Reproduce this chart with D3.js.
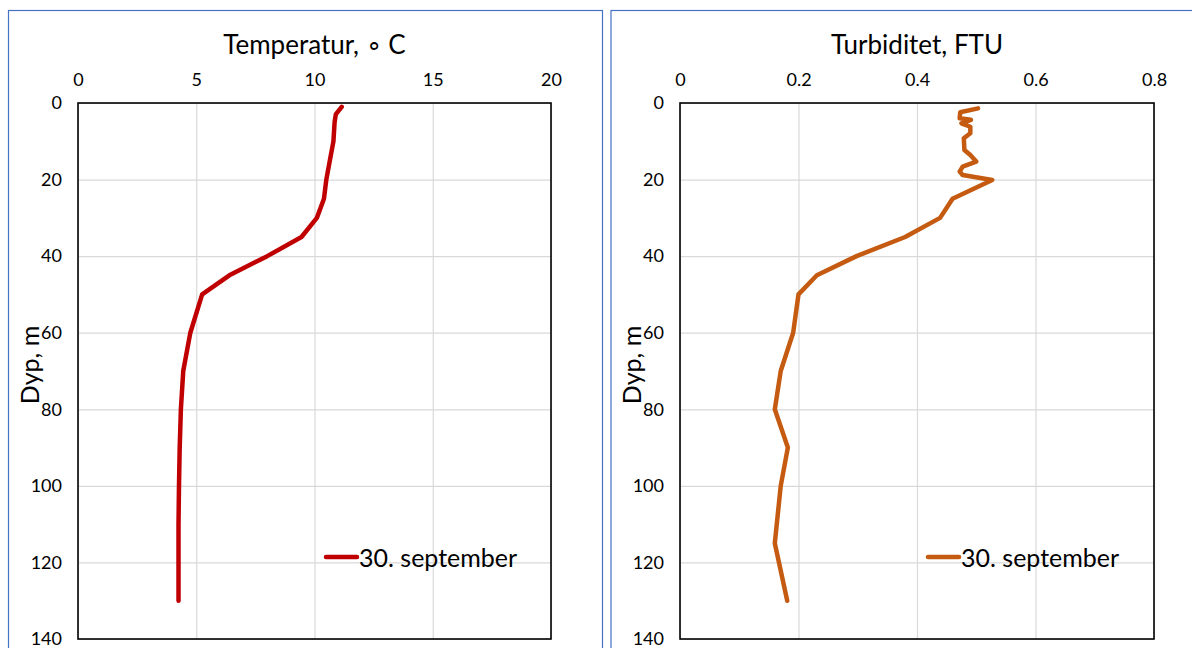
<!DOCTYPE html>
<html>
<head>
<meta charset="utf-8">
<script src="https://cdn.jsdelivr.net/npm/d3@7"></script>
<style>
  body { margin: 0; background: #fff; }
  svg { font-family: Lato, "Open Sans", sans-serif; }
</style>
</head>
<body>
<div id="canvas"></div>
<script>
// temperature profile, 30. september
const tempDepth = [1, 3, 5, 10, 15, 20, 25, 30, 35, 40, 45, 50, 60, 70, 80, 90, 100, 110, 115, 120, 125, 130];
const tempValue = [11.15, 10.9, 10.85, 10.8, 10.65, 10.5, 10.4, 10.1, 9.45, 8.0, 6.4, 5.25, 4.75, 4.45, 4.35, 4.3, 4.27, 4.25, 4.25, 4.25, 4.25, 4.25];

// turbidity profile, 30. september
const turbDepth = [1.4, 2.4, 4, 4.4, 5.3, 6.2, 7.9, 9.2, 12.3, 13.6, 15.3, 16.6, 17.9, 18.8, 20.1, 25, 30, 35, 40, 45, 50, 60, 70, 80, 90, 100, 115, 130];
const turbValue = [0.503, 0.473, 0.472, 0.491, 0.475, 0.49, 0.49, 0.479, 0.48, 0.49, 0.50, 0.477, 0.472, 0.477, 0.527, 0.46, 0.439, 0.38, 0.298, 0.231, 0.2, 0.191, 0.17, 0.16, 0.182, 0.17, 0.16, 0.181];

const tempTicks = [0, 5, 10, 15, 20];
const turbTicks = [0, 0.2, 0.4, 0.6, 0.8];
const depthTicks = [0, 20, 40, 60, 80, 100, 120, 140];
const seriesName = "30. september";

const width = 1192;
const height = 648;

const svg = d3.select("#canvas").append("svg")
    .attr("width", width)
    .attr("height", height);

function drawPanel(p) {
    const g = svg.append("g");

    // panel border (Excel chart area)
    g.append("rect")
        .attr("x", p.boxX).attr("y", 10.5)
        .attr("width", p.boxW).attr("height", 700)
        .attr("fill", "none")
        .attr("stroke", "#4472c4")
        .attr("stroke-width", 1.2);

    const x = d3.scaleLinear().domain([p.ticks[0], p.ticks[p.ticks.length - 1]]).range([p.left, p.right]);
    const y = d3.scaleLinear().domain([0, 140]).range([103, 639]);
    const iheight = 639 - 103;
    const iwidth = p.right - p.left;

    // grid
    g.append("g")
        .attr("transform", `translate(0,103)`)
        .call(d3.axisTop(x).tickValues(p.ticks).tickSize(-iheight).tickFormat(""))
        .call(a => a.select(".domain").remove())
        .selectAll("line").attr("stroke", "#d9d9d9").attr("stroke-width", 1.2);
    g.append("g")
        .attr("transform", `translate(${p.left},0)`)
        .call(d3.axisLeft(y).tickValues(depthTicks).tickSize(-iwidth).tickFormat(""))
        .call(a => a.select(".domain").remove())
        .selectAll("line").attr("stroke", "#d9d9d9").attr("stroke-width", 1.2);

    // tick labels
    const xa = g.append("g")
        .attr("transform", `translate(0,103)`)
        .call(d3.axisTop(x).tickValues(p.ticks).tickSize(0).tickPadding(17).tickFormat(p.fmt));
    xa.select(".domain").remove();
    xa.selectAll("text").attr("font-size", 18).attr("fill", "#000").attr("font-family", "Lato, sans-serif");

    const ya = g.append("g")
        .attr("transform", `translate(${p.left},0)`)
        .call(d3.axisLeft(y).tickValues(depthTicks).tickSize(0).tickPadding(16));
    ya.select(".domain").remove();
    ya.selectAll("text").attr("font-size", 18).attr("fill", "#000").attr("font-family", "Lato, sans-serif");

    // plot frame
    g.append("rect")
        .attr("x", p.left).attr("y", 103)
        .attr("width", iwidth).attr("height", iheight)
        .attr("fill", "none")
        .attr("stroke", "#000")
        .attr("stroke-width", 1.6);

    // titles
    g.append("text")
        .attr("x", (p.left + p.right) / 2)
        .attr("y", 54)
        .attr("text-anchor", "middle")
        .attr("font-size", 26)
        .text(p.title);

    g.append("text")
        .attr("transform", `translate(${p.boxX + 20},365) rotate(-90)`)
        .attr("text-anchor", "middle")
        .attr("dominant-baseline", "central")
        .attr("font-size", 25)
        .text("Dyp, m");

    // data line
    const pts = p.depth.map((d, i) => [p.value[i], d]);
    const line = d3.line().x(d => x(d[0])).y(d => y(d[1]));
    g.append("path")
        .datum(pts)
        .attr("d", line)
        .attr("fill", "none")
        .attr("stroke", p.color)
        .attr("stroke-width", 4.5)
        .attr("stroke-linejoin", "round")
        .attr("stroke-linecap", "round");

    // legend
    g.append("line")
        .attr("x1", p.legX).attr("x2", p.legX + 31)
        .attr("y1", 557).attr("y2", 557)
        .attr("stroke", p.color)
        .attr("stroke-width", 4.5)
        .attr("stroke-linecap", "round");
    g.append("text")
        .attr("x", p.legX + 33)
        .attr("y", 557)
        .attr("dominant-baseline", "central")
        .attr("font-size", 25)
        .text(seriesName);
}

drawPanel({
    boxX: 8.5, boxW: 594,
    left: 78, right: 551,
    ticks: tempTicks, fmt: d3.format("d"),
    depth: tempDepth, value: tempValue,
    color: "#c00000",
    title: "Temperatur, \u2218 C",
    legX: 326
});

drawPanel({
    boxX: 611, boxW: 700,
    left: 680, right: 1154,
    ticks: turbTicks, fmt: d => d === 0 ? "0" : d3.format(".1f")(d),
    depth: turbDepth, value: turbValue,
    color: "#c55a11",
    title: "Turbiditet, FTU",
    legX: 928
});
</script>
</body>
</html>
